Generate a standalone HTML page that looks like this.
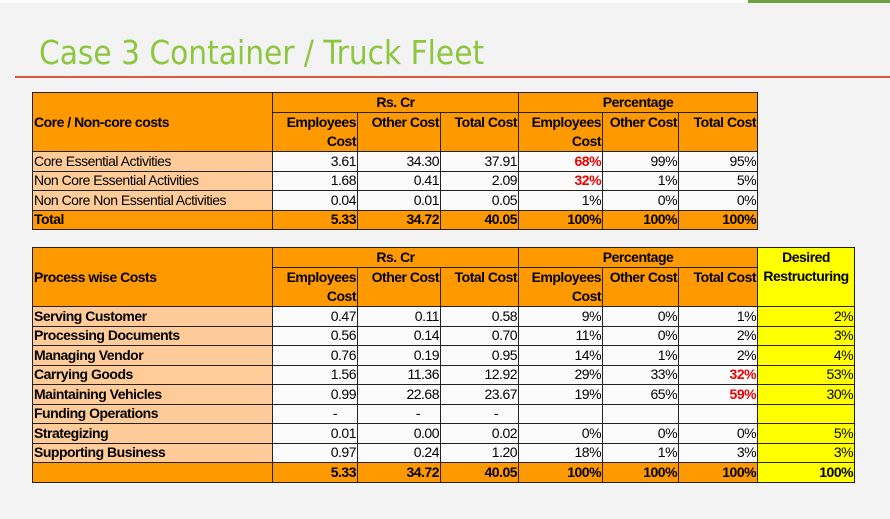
<!DOCTYPE html>
<html><head><meta charset="utf-8"><style>
body{margin:0;width:890px;height:519px;background:#f3f3f3;position:relative;overflow:hidden;font-family:"Liberation Sans",Arial,sans-serif}
.top{position:absolute;left:0;top:0;width:890px;height:3px;background:#fff}
.gb{position:absolute;left:748px;top:0;width:142px;height:3px;background:#70a040}
h1{position:absolute;left:39px;top:33px;margin:0;font-weight:normal;font-size:33px;color:#8dc63f;font-family:"DejaVu Sans Condensed","Liberation Sans Narrow","Liberation Sans",sans-serif;letter-spacing:0px}
.rl{position:absolute;left:15px;top:76px;width:875px;height:2px;background:#d9573a}
table{position:absolute;left:32px;border-collapse:collapse;table-layout:fixed;font-size:14px;letter-spacing:-0.5px}
td{border:1.5px solid #222;padding:0 1px;height:18px;line-height:17px;text-align:right;background:#fbfbfb;white-space:nowrap;overflow:hidden}
td.o{background:#ff9900;font-weight:bold}
td.c{text-align:center}
td.dash{padding-right:20px}
td.l{text-align:left;background:#ffcc99}
td.y{background:#ffff00}
td.r{color:#ee0000;font-weight:bold}
tr.h2 td{height:37px;vertical-align:top;line-height:19px}
td.lab{text-align:left;vertical-align:middle !important}
b{font-weight:bold}
</style></head><body>
<div class="top"></div><div class="gb"></div>
<h1>Case 3 Container / Truck Fleet</h1>
<div class="rl"></div>
<table style="top:92px;width:725px">
<colgroup><col style="width:240px"><col style="width:85px"><col style="width:83px"><col style="width:78px"><col style="width:84px"><col style="width:76px"><col style="width:79px"></colgroup>
<tr style="height:20px"><td class="o lab" rowspan="2">Core / Non-core costs</td><td class="o c" colspan="3">Rs. Cr</td><td class="o c" colspan="3">Percentage</td></tr>
<tr class="h2"><td class="o">Employees<br>Cost</td><td class="o">Other Cost</td><td class="o">Total Cost</td><td class="o">Employees<br>Cost</td><td class="o">Other Cost</td><td class="o">Total Cost</td></tr>
<tr style="height:19.5px"><td class="l">Core Essential Activities</td><td>3.61</td><td>34.30</td><td>37.91</td><td class="r">68%</td><td>99%</td><td>95%</td></tr>
<tr style="height:19.5px"><td class="l">Non Core Essential Activities</td><td>1.68</td><td>0.41</td><td>2.09</td><td class="r">32%</td><td>1%</td><td>5%</td></tr>
<tr style="height:19.5px"><td class="l">Non Core Non Essential Activities</td><td>0.04</td><td>0.01</td><td>0.05</td><td>1%</td><td>0%</td><td>0%</td></tr>
<tr style="height:19.5px"><td class="o" style="text-align:left">Total</td><td class="o">5.33</td><td class="o">34.72</td><td class="o">40.05</td><td class="o">100%</td><td class="o">100%</td><td class="o">100%</td></tr>
</table>
<table style="top:247px;width:822px">
<colgroup><col style="width:240px"><col style="width:85px"><col style="width:83px"><col style="width:78px"><col style="width:84px"><col style="width:76px"><col style="width:79px"><col style="width:97px"></colgroup>
<tr style="height:20px"><td class="o lab" rowspan="2">Process wise Costs</td><td class="o c" colspan="3">Rs. Cr</td><td class="o c" colspan="3">Percentage</td><td class="y c" rowspan="2" style="font-weight:bold;vertical-align:top;line-height:19px">Desired<br>Restructuring</td></tr>
<tr class="h2"><td class="o">Employees<br>Cost</td><td class="o">Other Cost</td><td class="o">Total Cost</td><td class="o">Employees<br>Cost</td><td class="o">Other Cost</td><td class="o">Total Cost</td></tr>
<tr style="height:19.5px"><td class="l"><b>Serving Customer</b></td><td>0.47</td><td>0.11</td><td>0.58</td><td>9%</td><td>0%</td><td>1%</td><td class="y">2%</td></tr>
<tr style="height:19.5px"><td class="l"><b>Processing Documents</b></td><td>0.56</td><td>0.14</td><td>0.70</td><td>11%</td><td>0%</td><td>2%</td><td class="y">3%</td></tr>
<tr style="height:19.5px"><td class="l"><b>Managing Vendor</b></td><td>0.76</td><td>0.19</td><td>0.95</td><td>14%</td><td>1%</td><td>2%</td><td class="y">4%</td></tr>
<tr style="height:19.5px"><td class="l"><b>Carrying Goods</b></td><td>1.56</td><td>11.36</td><td>12.92</td><td>29%</td><td>33%</td><td class="r">32%</td><td class="y">53%</td></tr>
<tr style="height:19.5px"><td class="l"><b>Maintaining Vehicles</b></td><td>0.99</td><td>22.68</td><td>23.67</td><td>19%</td><td>65%</td><td class="r">59%</td><td class="y">30%</td></tr>
<tr style="height:19.5px"><td class="l"><b>Funding Operations</b></td><td class="dash">-</td><td class="dash">-</td><td class="dash">-</td><td></td><td></td><td></td><td class="y"></td></tr>
<tr style="height:19.5px"><td class="l"><b>Strategizing</b></td><td>0.01</td><td>0.00</td><td>0.02</td><td>0%</td><td>0%</td><td>0%</td><td class="y">5%</td></tr>
<tr style="height:19.5px"><td class="l"><b>Supporting Business</b></td><td>0.97</td><td>0.24</td><td>1.20</td><td>18%</td><td>1%</td><td>3%</td><td class="y">3%</td></tr>
<tr style="height:19.5px"><td class="o"></td><td class="o">5.33</td><td class="o">34.72</td><td class="o">40.05</td><td class="o">100%</td><td class="o">100%</td><td class="o">100%</td><td class="y" style="font-weight:bold">100%</td></tr>
</table>
</body></html>
